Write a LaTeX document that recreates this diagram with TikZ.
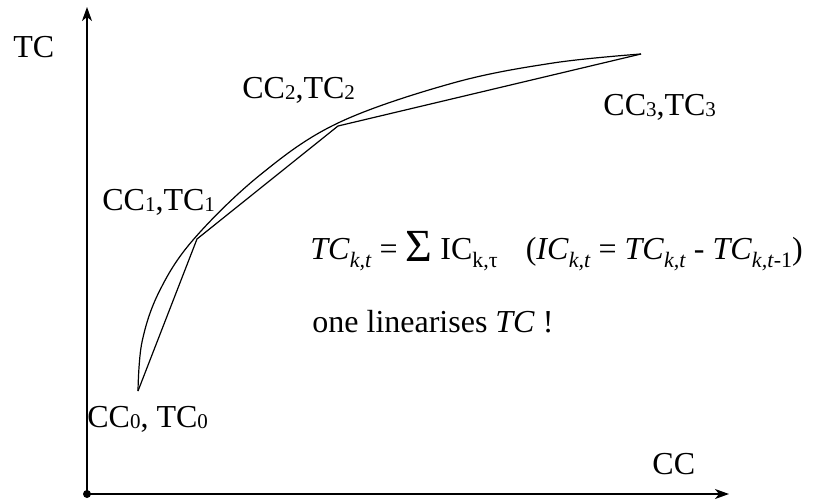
\documentclass[tikz,border=0pt]{standalone}
\usepackage{fontspec}
\setmainfont{Liberation Serif}
\usetikzlibrary{arrows.meta}
\newcommand\lodig[1]{\raisebox{-0.6pt}{\fontsize{10.5}{12}\selectfont #1}}
\newcommand\mysb[1]{\raisebox{-4.2pt}{\fontsize{11}{12}\selectfont #1}}
\begin{document}
\begin{tikzpicture}[x=0.5pt,y=-0.5pt,
  lbl/.style={anchor=base west,inner sep=0pt,font=\fontsize{16}{19}\selectfont},
  axis/.style={line width=0.8pt,-{Stealth[length=7pt,width=5pt,inset=2pt]}},
  thin/.style={line width=0.6pt}]
\useasboundingbox (0,0) rectangle (819,499);
\coordinate (O) at (87,494);
\coordinate (Ytip) at (87,7);
\coordinate (Xtip) at (729,494);
\draw[axis] (O) -- (Ytip);
\draw[axis] (O) -- (Xtip);
\fill (O) circle (4);
\coordinate (P0) at (138,391);
\coordinate (P1) at (197,239);
\coordinate (P2) at (338,126);
\coordinate (P3) at (641,54);
\draw[thin,line join=miter] (P0) -- (P1) -- (P2) -- (P3);
\draw[thin] plot[smooth,tension=0.6] coordinates {(138,391) (142,342) (159,292) (193,240) (260,175) (338,123) (453,83) (553,63) (641,54)};
\node[lbl] (tc) at (13,57) {TC};
\node[lbl] (cc) at (652,474) {CC};
\node[lbl] (l0) at (87,427) {CC\lodig{0}, TC\lodig{0}};
\node[lbl] (l1) at (102,210) {CC\lodig{1},TC\lodig{1}};
\node[lbl] (l2) at (242,98) {CC\lodig{2},TC\lodig{2}};
\node[lbl] (l3) at (603,115) {CC\lodig{3},TC\lodig{3}};
\node[lbl] (f) at (310,259) {\textit{TC}\mysb{\textit{k,t}} = {\fontsize{23}{24}\selectfont\raisebox{-1pt}{Σ}} IC\mysb{k,τ}\hspace{14pt}(\textit{IC}\mysb{\textit{k,t}} = \textit{TC}\mysb{\textit{k,t}} - \textit{TC}\mysb{\textit{k,t}-1})};
\node[lbl] (g) at (312,332) {one linearises \textit{TC} !};
\end{tikzpicture}
\end{document}
